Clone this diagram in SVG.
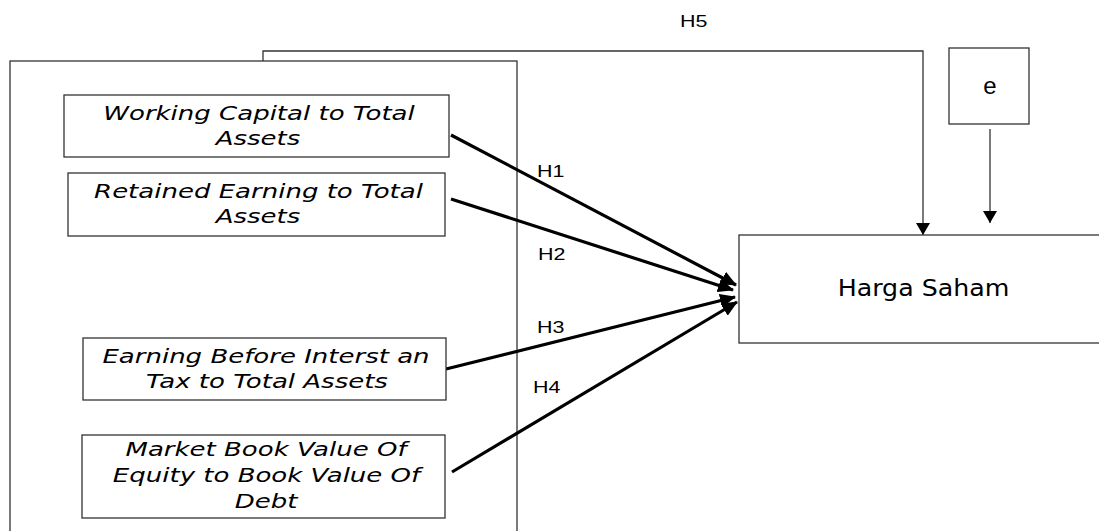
<svg xmlns="http://www.w3.org/2000/svg" width="1099" height="531" viewBox="0 0 1099 531">
<style>
.box{fill:#fff;stroke:#333;stroke-width:1.3}
.it{font-family:"DejaVu Sans",Verdana,sans-serif;font-style:italic;font-size:20px;fill:#000;text-anchor:middle}
.lbl{font-family:"Liberation Sans",Arial,sans-serif;font-size:16.5px;fill:#000}
.thick{stroke:#000;stroke-width:3.2;fill:none;marker-end:url(#big)}
.thin{stroke:#333;stroke-width:1.3;fill:none;marker-end:url(#small)}
</style>
<defs>
<marker id="big" markerUnits="userSpaceOnUse" viewBox="0 0 16 14" refX="15" refY="7" markerWidth="16" markerHeight="14" orient="auto"><path d="M0,0 L16,7 L0,14 z" fill="#000"/></marker>
<marker id="small" markerUnits="userSpaceOnUse" viewBox="0 0 12 14" refX="12" refY="7" markerWidth="12" markerHeight="14" orient="auto"><path d="M0,0 L12,7 L0,14 z" fill="#000"/></marker>
</defs>
<rect width="1099" height="531" fill="#fff"/>
<g id="group-frame"><rect class="box" x="10" y="61" width="507" height="480"/></g>
<g id="connectors">
<polyline class="thin" points="263,61 263,51 923,51 923,235"/>
<line class="thin" x1="990" y1="129" x2="990" y2="223"/>
<line class="thick" x1="451" y1="135" x2="736" y2="285"/>
<line class="thick" x1="451" y1="199" x2="733" y2="290"/>
<line class="thick" x1="446" y1="369" x2="735" y2="297"/>
<line class="thick" x1="452" y1="472" x2="737" y2="302"/>
<text class="lbl" transform="matrix(1.3 0 0 1 537 0)" x="0" y="177">H1</text>
<text class="lbl" transform="matrix(1.3 0 0 1 538 0)" x="0" y="260">H2</text>
<text class="lbl" transform="matrix(1.3 0 0 1 537 0)" x="0" y="333">H3</text>
<text class="lbl" transform="matrix(1.3 0 0 1 533 0)" x="0" y="393">H4</text>
<text class="lbl" transform="matrix(1.3 0 0 1 680 0)" x="0" y="27">H5</text>
</g>
<g id="n1"><rect class="box" x="64" y="95" width="385" height="62"/>
<text class="it" transform="matrix(1.3 0 0 1 259 0)" x="0" y="120">Working Capital to Total</text>
<text class="it" transform="matrix(1.3 0 0 1 258 0)" x="0" y="145">Assets</text></g>
<g id="n2"><rect class="box" x="68" y="173" width="377" height="63"/>
<text class="it" transform="matrix(1.3 0 0 1 258.5 0)" x="0" y="198">Retained Earning to Total</text>
<text class="it" transform="matrix(1.3 0 0 1 258 0)" x="0" y="223">Assets</text></g>
<g id="n3"><rect class="box" x="83" y="338" width="363" height="62"/>
<text class="it" transform="matrix(1.3 0 0 1 266 0)" x="0" y="363">Earning Before Interst an</text>
<text class="it" transform="matrix(1.3 0 0 1 267 0)" x="0" y="388">Tax to Total Assets</text></g>
<g id="n4"><rect class="box" x="82" y="435" width="363" height="83"/>
<text class="it" transform="matrix(1.3 0 0 1 266 0)" x="0" y="456">Market Book Value Of</text>
<text class="it" transform="matrix(1.3 0 0 1 266.5 0)" x="0" y="482">Equity to Book Value Of</text>
<text class="it" transform="matrix(1.3 0 0 1 266 0)" x="0" y="508">Debt</text></g>
<g id="e"><rect class="box" x="949" y="48" width="80" height="76"/>
<text x="990" y="94" style="font-family:'Liberation Sans',Arial,sans-serif;font-size:24px;text-anchor:middle">e</text></g>
<g id="harga"><rect class="box" x="739" y="235" width="370" height="108"/>
<text transform="matrix(1.1 0 0 1 923.5 0)" x="0" y="296.5" style="font-family:'DejaVu Sans',Verdana,sans-serif;font-size:23px;text-anchor:middle">Harga Saham</text></g>
</svg>
